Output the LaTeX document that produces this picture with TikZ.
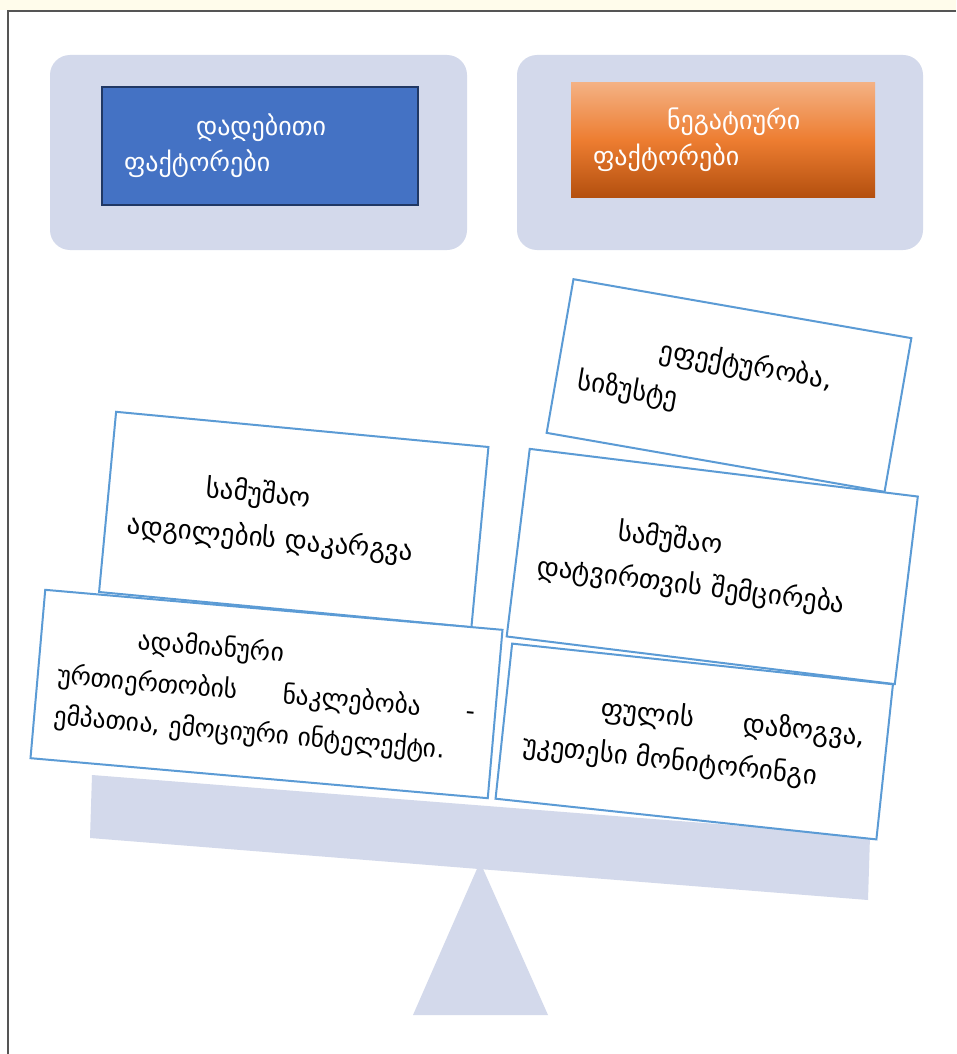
\documentclass[tikz,border=0pt]{standalone}
\usepackage{fontspec}
\newfontfamily\geofont{DejaVu Sans}
\usepackage{tikz}
\usetikzlibrary{shapes.geometric}
\definecolor{panelgray}{RGB}{211,217,235}
\definecolor{cardblue}{RGB}{91,155,213}
\definecolor{posblue}{RGB}{68,114,196}
\definecolor{posdark}{RGB}{32,56,100}
\definecolor{negtop}{RGB}{244,177,131}
\definecolor{negmid}{RGB}{237,125,49}
\definecolor{negbot}{RGB}{180,80,15}
\definecolor{cream}{RGB}{255,252,235}
\definecolor{framegray}{RGB}{85,85,85}
\begin{document}
\begin{tikzpicture}[
    x=1pt, y=-1pt,
    panel/.style={fill=panelgray, rounded corners=20pt, minimum height=195pt, inner sep=0pt},
    head/.style={align=left, inner xsep=22pt, font=\geofont\fontsize{26}{36}\selectfont, text=white},
    card/.style={draw=cardblue, line width=2pt, fill=white, align=left, inner xsep=22pt, inner ysep=0pt, font=\geofont\fontsize{27}{44}\selectfont}
]
\useasboundingbox (0,0) rectangle (956,1054);
\fill[white] (0,0) rectangle (956,1054);
\fill[cream] (0,0) rectangle (956,10);
\draw[framegray, line width=2pt] (8,1054) -- (8,11) -- (956,11);

\node[panel, minimum width=417pt] (pospanel) at (258.5,152.5) {};
\node[panel, minimum width=406pt] (negpanel) at (720,152.5) {};
\node[head, fill=posblue, draw=posdark, line width=2pt, text width=272pt, minimum height=118pt] (pos) at (260,146) {\hspace*{72pt}დადებითი\\ფაქტორები};
\node[head, top color=negtop, bottom color=negbot, middle color=negmid, text width=260pt, minimum height=114pt] (neg) at (723,140) {\hspace*{74pt}ნეგატიური\\ფაქტორები};

\fill[panelgray] (92,775) -- (870,836) -- (868,900) -- (90,838) -- cycle;
\fill[panelgray] (480,862) -- (548,1015) -- (413,1015) -- cycle;

\node[card, rotate=-5.4, text width=330pt, minimum height=181pt] (jobloss) at (293.75,519.5) {\hspace*{75pt}სამუშაო\\ადგილების დაკარგვა};
\node[card, rotate=-5.0, text width=419pt, inner xsep=20pt, minimum height=169pt, font=\geofont\fontsize{25.5}{41}\selectfont] (human) at (266.5,694) {\hspace*{77pt}ადამიანური\\ურთიერთობის\hfill ნაკლებობა\hfill -\\ემპათია, ემოციური ინტელექტი.};
\node[card, rotate=-9.9, text width=299pt, minimum height=156pt] (effect) at (729,385.5) {\hspace*{76pt}ეფექტურობა,\\სიზუსტე};
\node[card, rotate=-7.0, text width=347pt, minimum height=189pt] (workload) at (712.25,566.5) {\hspace*{76pt}სამუშაო\\დატვირთვის შემცირება};
\node[card, rotate=-6.1, text width=339pt, minimum height=156pt] (money) at (694.25,741.5) {\hspace*{74pt}ფულის\hfill დაზოგვა,\\უკეთესი მონიტორინგი};
\end{tikzpicture}
\end{document}
